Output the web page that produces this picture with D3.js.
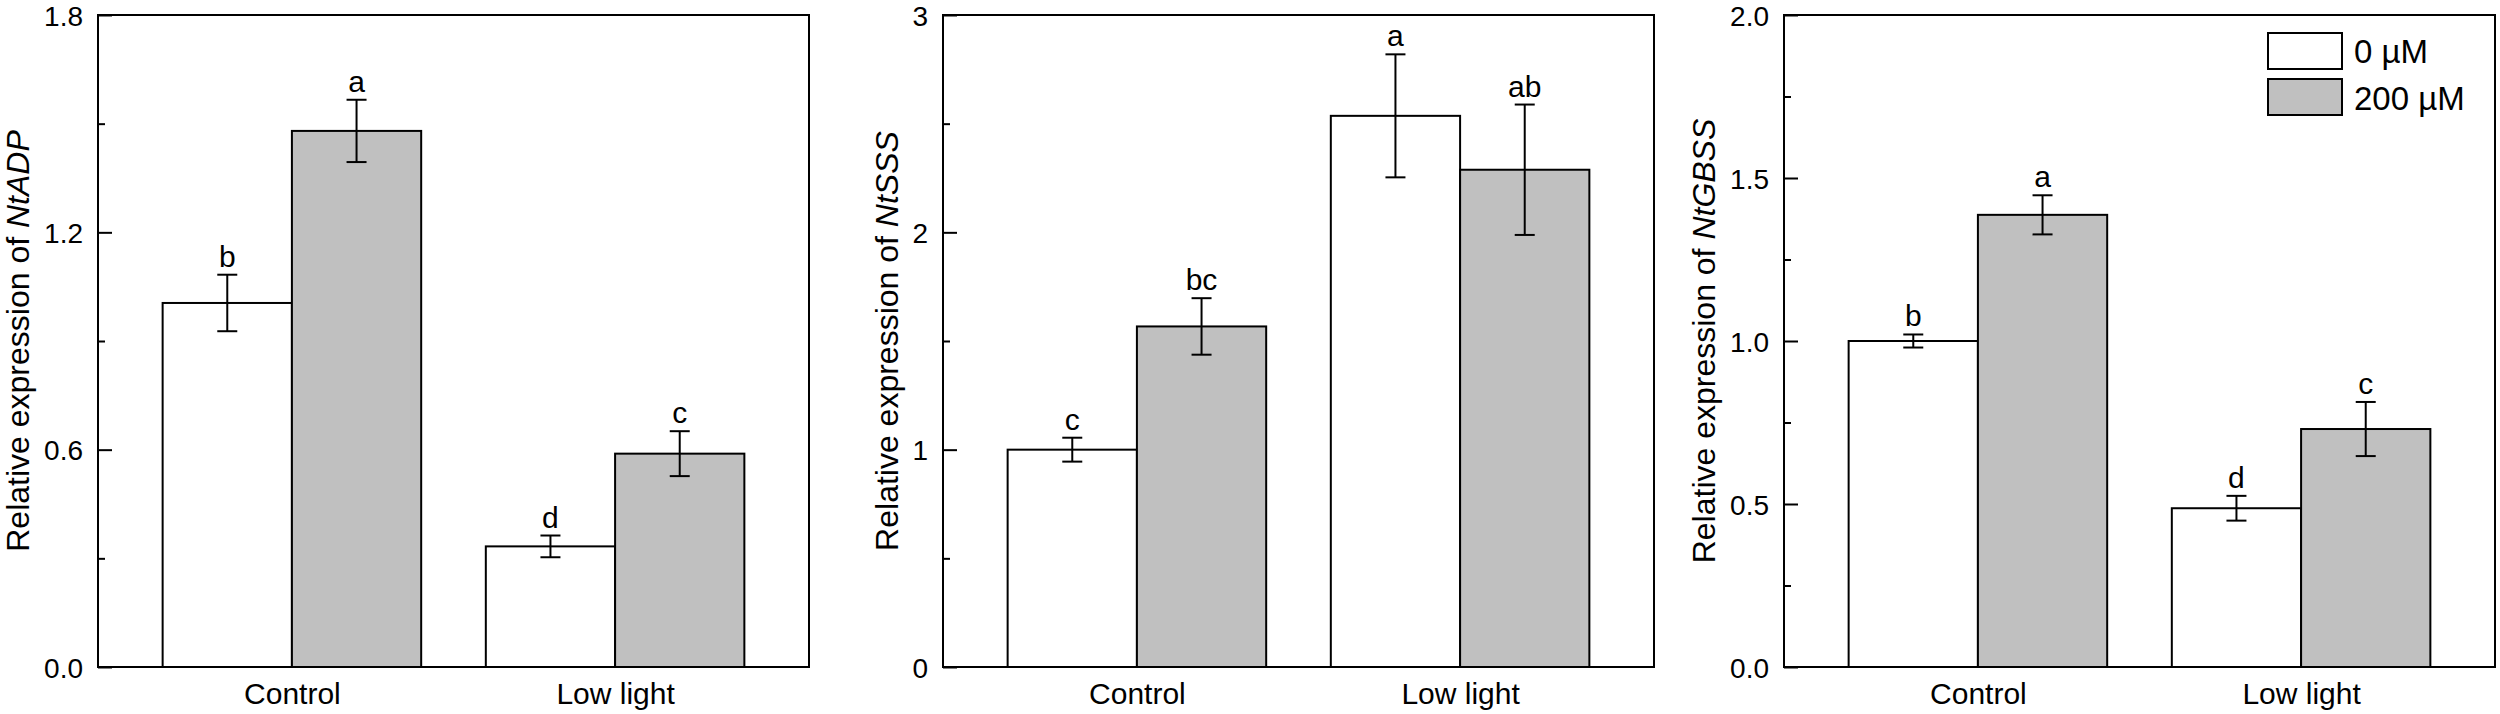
<!DOCTYPE html>
<html>
<head>
<meta charset="utf-8">
<script src="https://cdn.jsdelivr.net/npm/d3@7"></script>
<style>
  body { margin: 0; background: #fff; }
  text { font-family: "Liberation Sans", Arial, sans-serif; fill: #000; }
</style>
</head>
<body>
<div id="chart"></div>
<script>
// groups and treatments
const groups = ["Control", "Low light"];
const doses = ["0 \u00b5M", "200 \u00b5M"];

// NtADP
const adp0 = [1.005, 0.333];
const adp0Err = [0.078, 0.030];
const adp200 = [1.48, 0.589];
const adp200Err = [0.086, 0.062];
const adpLetters0 = ["b", "d"];
const adpLetters200 = ["a", "c"];
const adpTicks = [0, 0.6, 1.2, 1.8];
const adpMinor = [0.3, 0.9, 1.5];

// NtSSS
const sss0 = [1.0, 2.536];
const sss0Err = [0.055, 0.283];
const sss200 = [1.567, 2.288];
const sss200Err = [0.13, 0.30];
const sssLetters0 = ["c", "a"];
const sssLetters200 = ["bc", "ab"];
const sssTicks = [0, 1, 2, 3];
const sssMinor = [0.5, 1.5, 2.5];

// NtGBSS
const gbss0 = [1.0, 0.487];
const gbss0Err = [0.02, 0.038];
const gbss200 = [1.387, 0.730];
const gbss200Err = [0.06, 0.083];
const gbssLetters0 = ["b", "d"];
const gbssLetters200 = ["a", "c"];
const gbssTicks = [0, 0.5, 1.0, 1.5, 2.0];
const gbssMinor = [0.25, 0.75, 1.25, 1.75];

const fills = ["#ffffff", "#c0c0c0"];

const panels = [
    { gene: "NtADP", max: 1.8, ticks: adpTicks, minor: adpMinor, fmt: d3.format(".1f"),
      means: [adp0, adp200], errs: [adp0Err, adp200Err], letters: [adpLetters0, adpLetters200],
      left: 98, titleOff: 69 },
    { gene: "NtSSS", max: 3, ticks: sssTicks, minor: sssMinor, fmt: d3.format("d"),
      means: [sss0, sss200], errs: [sss0Err, sss200Err], letters: [sssLetters0, sssLetters200],
      left: 943, titleOff: 45 },
    { gene: "NtGBSS", max: 2, ticks: gbssTicks, minor: gbssMinor, fmt: d3.format(".1f"),
      means: [gbss0, gbss200], errs: [gbss0Err, gbss200Err], letters: [gbssLetters0, gbssLetters200],
      left: 1784, titleOff: 69, legend: true }
];

const W = 2500, H = 714;
const plotTop = 15, plotBottom = 667, pw = 711;

const svg = d3.select("#chart").append("svg")
    .attr("width", W)
    .attr("height", H)
    .attr("viewBox", [0, 0, W, H]);

panels.forEach(p => {
    const x = d3.scaleLinear().domain([0.4, 2.6]).range([p.left, p.left + pw]);
    const y = d3.scaleLinear().domain([0, p.max]).range([plotBottom, plotTop]);
    const g = svg.append("g");

    // bars
    p.means.forEach((vals, s) => {
        g.selectAll(null)
            .data(vals)
            .join("rect")
            .attr("x", (d, i) => x(i + 1 + (s - 1) * 0.4))
            .attr("y", d => y(d))
            .attr("width", x(0.8) - x(0.4))
            .attr("height", d => y(0) - y(d))
            .attr("fill", fills[s])
            .attr("stroke", "#000")
            .attr("stroke-width", 2);
    });

    // error bars and letters
    p.means.forEach((vals, s) => {
        vals.forEach((m, i) => {
            const cx = x(i + 1 + (s - 0.5) * 0.4);
            const e = p.errs[s][i];
            g.append("line")
                .attr("x1", cx).attr("x2", cx)
                .attr("y1", y(m - e)).attr("y2", y(m + e))
                .attr("stroke", "#000").attr("stroke-width", 2);
            [m - e, m + e].forEach(v => {
                g.append("line")
                    .attr("x1", cx - 10).attr("x2", cx + 10)
                    .attr("y1", y(v)).attr("y2", y(v))
                    .attr("stroke", "#000").attr("stroke-width", 2);
            });
            g.append("text")
                .attr("x", cx)
                .attr("y", y(m + e) - 8)
                .attr("text-anchor", "middle")
                .attr("font-size", 30)
                .text(p.letters[s][i]);
        });
    });

    // frame
    g.append("rect")
        .attr("x", p.left).attr("y", plotTop)
        .attr("width", pw).attr("height", plotBottom - plotTop)
        .attr("fill", "none")
        .attr("stroke", "#000")
        .attr("stroke-width", 2);

    // y axis, ticks pointing inward
    const yAxis = g.append("g")
        .attr("transform", `translate(${p.left},0)`)
        .call(d3.axisLeft(y).tickValues(p.ticks).tickFormat(p.fmt).tickSize(-14).tickPadding(15));
    yAxis.select(".domain").remove();
    yAxis.selectAll("line").attr("stroke-width", 2);
    yAxis.selectAll("text")
        .attr("font-size", 28)
        .attr("dy", "0.36em")
        .attr("font-family", "Liberation Sans, Arial, sans-serif");

    const yMinor = g.append("g")
        .attr("transform", `translate(${p.left},0)`)
        .call(d3.axisLeft(y).tickValues(p.minor).tickFormat("").tickSize(-7));
    yMinor.select(".domain").remove();
    yMinor.selectAll("line").attr("stroke-width", 2);

    // category labels
    const xAxis = g.append("g")
        .attr("transform", `translate(0,${plotBottom})`)
        .call(d3.axisBottom(x).tickValues([1, 2]).tickFormat(d => groups[d - 1]).tickSize(0).tickPadding(16));
    xAxis.select(".domain").remove();
    xAxis.selectAll("text").attr("font-size", 30).attr("font-family", "Liberation Sans, Arial, sans-serif");

    // y title
    const title = g.append("text")
        .attr("transform", `translate(${p.left - p.titleOff},${(plotTop + plotBottom) / 2}) rotate(-90)`)
        .attr("text-anchor", "middle")
        .attr("font-size", 32);
    title.append("tspan").text("Relative expression of ");
    title.append("tspan").attr("font-style", "italic").text(p.gene);

    if (p.legend) {
        doses.forEach((d, k) => {
            g.append("rect")
                .attr("x", p.left + 484)
                .attr("y", 33 + k * 46)
                .attr("width", 74)
                .attr("height", 36)
                .attr("fill", fills[k])
                .attr("stroke", "#000")
                .attr("stroke-width", 2);
            g.append("text")
                .attr("x", p.left + 570)
                .attr("y", 63 + k * 47)
                .attr("font-size", 33)
                .text(d);
        });
    }
});
</script>
</body>
</html>
